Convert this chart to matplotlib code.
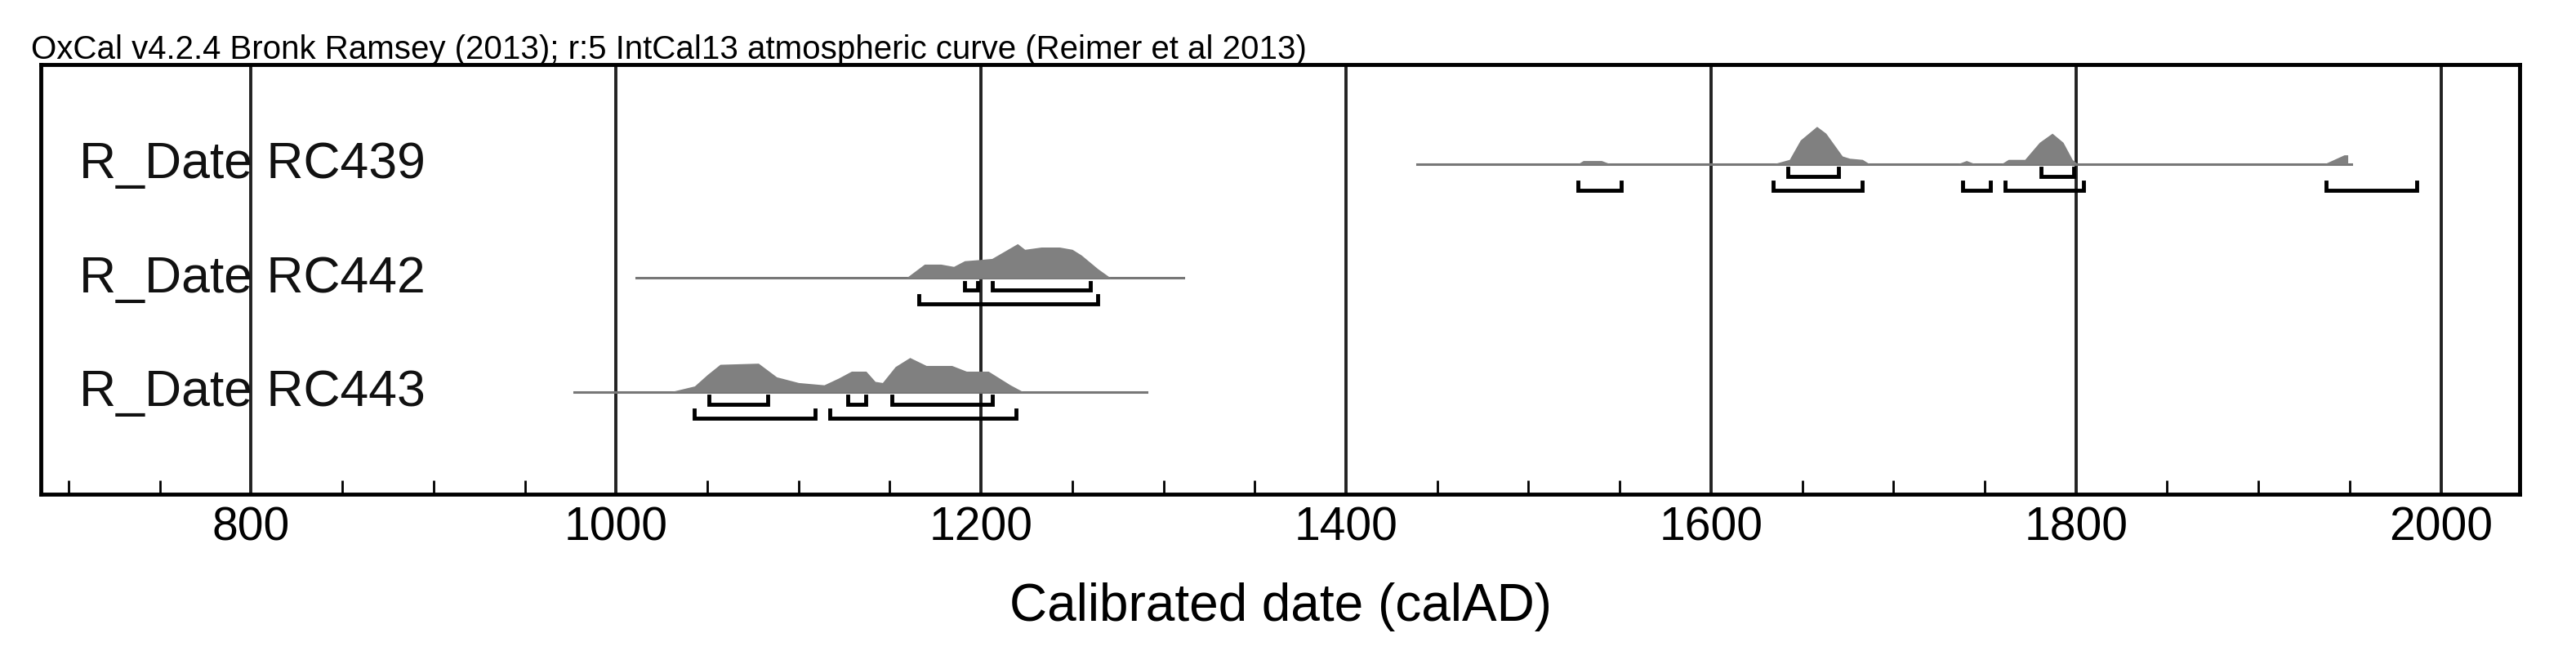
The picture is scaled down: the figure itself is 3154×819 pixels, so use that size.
import matplotlib
matplotlib.use("Agg")
import matplotlib.pyplot as plt
import numpy as np

plt.rcParams['font.family'] = ['Liberation Sans', 'DejaVu Sans']

names = ["R_Date RC439", "R_Date RC442", "R_Date RC443"]
line_ranges = [(1439, 1951), (1011, 1311), (977, 1291)]
# probability shapes (year, relative height)
rc439_x = [1439,1527,1530,1540,1545,1620,1634,1643,1649,1658,1663,1672,1676,1683,1687,1735,1740,1745,1759,1763,1772,1780,1787,1793,1798,1801,1936,1947,1949,1949]
rc439_y = [0,0,0.03,0.03,0,0,0,0.04,0.21,0.33,0.27,0.07,0.05,0.04,0,0,0.03,0,0,0.04,0.04,0.19,0.27,0.19,0.04,0,0,0.08,0.08,0]
rc442_x = [1159,1169,1178,1185,1191,1199,1206,1220,1224,1233,1243,1250,1255,1264,1271]
rc442_y = [0,0.12,0.12,0.10,0.15,0.16,0.17,0.30,0.25,0.27,0.27,0.25,0.20,0.08,0]
rc443_x = [1030,1043,1050,1057,1078,1088,1100,1114,1122,1129,1137,1142,1146,1153,1161,1170,1184,1192,1204,1216,1223]
rc443_y = [0,0.05,0.15,0.24,0.25,0.13,0.08,0.06,0.12,0.18,0.18,0.09,0.08,0.22,0.30,0.23,0.23,0.18,0.18,0.06,0]
shapes_x = [rc439_x, rc442_x, rc443_x]
shapes_y = [rc439_y, rc442_y, rc443_y]
range68 = [[(1642,1670),(1781,1799)], [(1191,1198),(1206,1260)], [(1051,1083),(1127,1137),(1151,1206)]]
range95 = [[(1527,1551),(1634,1683),(1738,1753),(1761,1804),(1937,1987)], [(1166,1264)], [(1043,1109),(1117,1219)]]

fig = plt.figure(figsize=(31.54, 8.2), dpi=100)
ax = fig.add_axes([0.016, 0.261, 0.962, 0.641])
ax.set_xlim(685, 2043)
ax.set_ylim(2.9, -0.871)

for g in range(800, 2001, 200):
    ax.axvline(g, color="#222222", lw=2.8, zorder=1)

for i in range(3):
    a, b = line_ranges[i]
    ax.plot([a, b], [i, i], color="#777777", lw=2.2, zorder=2)
    ax.fill_between(shapes_x[i], i, i - np.array(shapes_y[i]), color="#808080", lw=0, zorder=3)
    for off, rngs in [(0.11, range68[i]), (0.23, range95[i])]:
        for (s, e) in rngs:
            yb = i + off
            ax.plot([s, s, e, e], [yb - 0.07, yb, yb, yb - 0.07], color="black", lw=3.5, zorder=4,
                    solid_joinstyle="miter")
    ax.text(706, i, names[i], fontsize=45, va="center", ha="left", color="#111111", zorder=5)

ax.set_yticks([])
ax.set_xticks(range(800, 2001, 200))
ax.set_xticks(range(700, 2043, 50), minor=True)
ax.tick_params(axis="x", which="both", direction="in", length=12, width=2, labelsize=41, pad=10)
ax.tick_params(axis="x", which="major", length=0)
for s in ax.spines.values():
    s.set_linewidth(3.5)
ax.set_xlabel("Calibrated date (calAD)", fontsize=46, labelpad=28)
fig.text(0.012, 0.903, "OxCal v4.2.4 Bronk Ramsey (2013); r:5 IntCal13 atmospheric curve (Reimer et al 2013)",
         fontsize=29, ha="left", va="bottom")
fig.savefig("out.png", dpi=100)
